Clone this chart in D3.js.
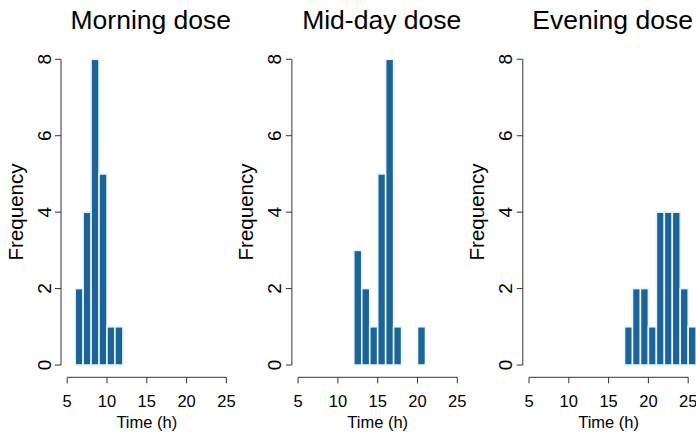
<!DOCTYPE html>
<html>
<head>
<meta charset="utf-8">
<script src="https://cdn.jsdelivr.net/npm/d3@7"></script>
<style>
  html, body { margin: 0; padding: 0; background: #fff; }
  svg { display: block; }
  text { font-family: "Liberation Sans", Arial, Helvetica, sans-serif; fill: #000; }
</style>
</head>
<body>
<svg id="chart" width="696" height="438"></svg>
<script>
// ---- data ----
const panelTitles = ["Morning dose", "Mid-day dose", "Evening dose"];
const morningStart = 6;
const morningCounts = [2, 4, 8, 5, 1, 1];
const middayStart = 12;
const middayCounts = [3, 2, 1, 5, 8, 1, 0, 0, 1];
const eveningStart = 17;
const eveningCounts = [1, 2, 2, 1, 4, 4, 4, 2, 1];
const xTicks = [5, 10, 15, 20, 25];
const yTicks = [0, 2, 4, 6, 8];
const xLabel = "Time (h)";
const yLabel = "Frequency";

const panels = [
  { title: panelTitles[0], start: morningStart, counts: morningCounts },
  { title: panelTitles[1], start: middayStart, counts: middayCounts },
  { title: panelTitles[2], start: eveningStart, counts: eveningCounts }
];

const svg = d3.select("#chart");
const panelW = 230.9;
const barFill = "#1b6497";
const barStroke = "#eaf2f8";

panels.forEach((p, i) => {
  const off = i * panelW;
  const x = d3.scaleLinear().domain([5, 25]).range([67.2 + off, 226.4 + off]);
  const y = d3.scaleLinear().domain([0, 8]).range([365, 59.3]);
  const g = svg.append("g");

  const bins = p.counts.map((c, k) => ({ x0: p.start + k, x1: p.start + k + 1, n: c }));

  g.selectAll("rect.bar").data(bins).enter().append("rect")
    .attr("class", "bar")
    .attr("x", d => x(d.x0))
    .attr("width", d => x(d.x1) - x(d.x0))
    .attr("y", d => y(d.n))
    .attr("height", d => y(0) - y(d.n))
    .attr("fill", barFill)
    .attr("stroke", barStroke)
    .attr("stroke-width", 1.6);

  // x axis
  const xAxisG = g.append("g").attr("transform", "translate(0,377.3)");
  xAxisG.append("line")
    .attr("x1", x(xTicks[0])).attr("x2", x(xTicks[xTicks.length - 1]))
    .attr("y1", 0).attr("y2", 0)
    .attr("stroke", "#333").attr("stroke-width", 1);
  xAxisG.selectAll("line.tick").data(xTicks).enter().append("line")
    .attr("class", "tick")
    .attr("x1", d => x(d)).attr("x2", d => x(d))
    .attr("y1", 0).attr("y2", 6)
    .attr("stroke", "#333").attr("stroke-width", 1);
  xAxisG.selectAll("text").data(xTicks).enter().append("text")
    .attr("x", d => x(d)).attr("y", 29.5)
    .attr("text-anchor", "middle")
    .attr("font-size", 16.5)
    .text(d => d);

  // y axis
  const yAxisX = 61 + off;
  g.append("line")
    .attr("x1", yAxisX).attr("x2", yAxisX)
    .attr("y1", y(yTicks[0])).attr("y2", y(yTicks[yTicks.length - 1]))
    .attr("stroke", "#333").attr("stroke-width", 1);
  g.selectAll("line.ytick").data(yTicks).enter().append("line")
    .attr("class", "ytick")
    .attr("x1", yAxisX - 6).attr("x2", yAxisX)
    .attr("y1", d => y(d)).attr("y2", d => y(d))
    .attr("stroke", "#333").attr("stroke-width", 1);
  g.selectAll("text.ylab").data(yTicks).enter().append("text")
    .attr("class", "ylab")
    .attr("transform", d => `translate(${50.5 + off},${y(d)}) rotate(-90)`)
    .attr("text-anchor", "middle")
    .attr("font-size", 19)
    .text(d => d);

  const cx = (x(5) + x(25)) / 2;
  g.append("text")
    .attr("x", cx).attr("y", 428)
    .attr("text-anchor", "middle")
    .attr("font-size", 16.5)
    .text(xLabel);

  g.append("text")
    .attr("transform", `translate(${22.5 + off},212) rotate(-90)`)
    .attr("text-anchor", "middle")
    .attr("font-size", 20.5)
    .text(yLabel);

  g.append("text")
    .attr("x", cx + 4).attr("y", 29)
    .attr("text-anchor", "middle")
    .attr("font-size", 26.5)
    .text(p.title);
});
</script>
</body>
</html>
